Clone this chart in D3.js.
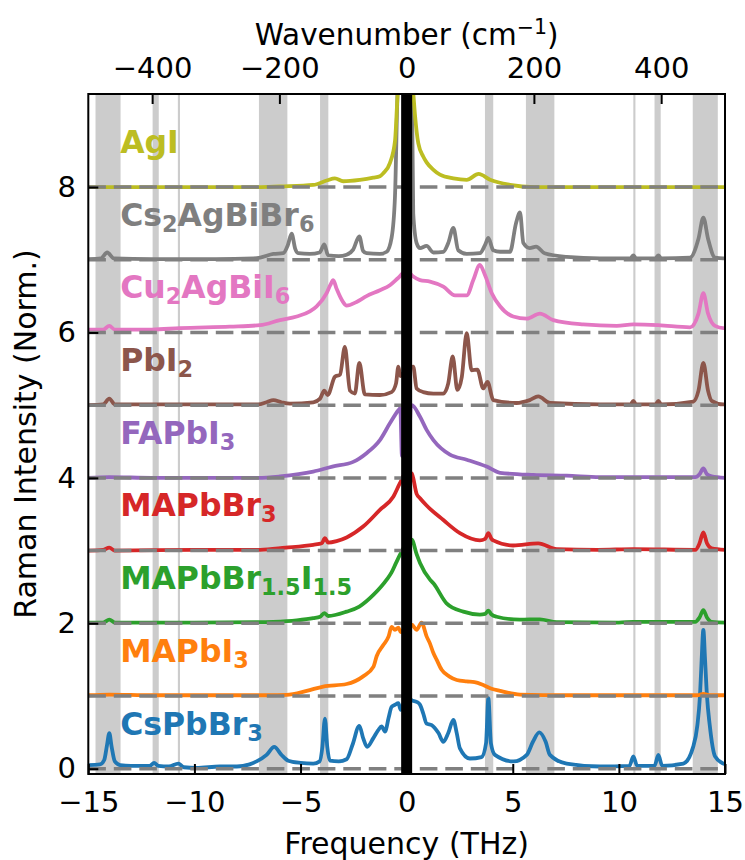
<!DOCTYPE html>
<html>
<head>
<meta charset="utf-8">
<script src="https://cdn.jsdelivr.net/npm/d3@7"></script>
<style>
  body { margin: 0; background: #fff; }
  text { font-family: "DejaVu Sans", sans-serif; }
</style>
</head>
<body>
<div id="raman_chart"></div>
<script>
// spectra: [frequency (THz), normalised intensity]
var csPbBr3 = [[-15,0.05],[-14.45,0.06],[-14.25,0.12],[-14.12,0.32],[-14.01,0.49],[-13.9,0.3],[-13.75,0.1],[-13.5,0.05],[-13.0,0.04],[-12.1,0.04],[-11.9,0.08],[-11.7,0.04],[-11.2,0.03],[-10.76,0.07],[-10.5,0.02],[-9.9,0.01],[-8.8,0.03],[-8.0,0.03],[-7.4,0.06],[-7.07,0.1],[-6.6,0.19],[-6.24,0.3],[-5.9,0.19],[-5.58,0.11],[-5.0,0.08],[-4.4,0.07],[-4.1,0.1],[-3.97,0.3],[-3.85,0.69],[-3.74,0.3],[-3.62,0.11],[-3.2,0.1],[-2.83,0.13],[-2.55,0.33],[-2.23,0.59],[-2.05,0.42],[-1.86,0.3],[-1.57,0.42],[-1.34,0.53],[-1.18,0.58],[-1.02,0.51],[-0.85,0.7],[-0.71,0.85],[-0.55,0.88],[-0.39,0.9],[-0.28,0.81],[0,1.0],[0.24,0.94],[0.47,0.92],[0.63,0.88],[0.78,0.76],[0.94,0.62],[1.18,0.6],[1.5,0.49],[1.73,0.37],[1.96,0.49],[2.2,0.67],[2.36,0.49],[2.51,0.28],[2.98,0.14],[3.53,0.16],[3.74,0.35],[3.85,0.97],[3.97,0.35],[4.16,0.19],[5.03,0.1],[5.66,0.19],[5.95,0.37],[6.25,0.5],[6.55,0.37],[6.75,0.19],[7.54,0.07],[9.1,0.03],[10.5,0.04],[10.68,0.17],[10.86,0.04],[11.68,0.04],[11.86,0.19],[12.04,0.04],[13.04,0.07],[13.5,0.3],[13.7,0.6],[13.82,1.0],[13.9,1.5],[13.98,1.91],[14.06,1.5],[14.15,1.0],[14.28,0.6],[14.53,0.17],[14.92,0.07],[15,0.06]];

var maPbI3 = [[-15,0.01],[-14.01,0.02],[-12,0.01],[-8,0.01],[-6.5,0.01],[-5.66,0.015],[-4.71,0.07],[-3.93,0.13],[-2.83,0.165],[-2.05,0.27],[-1.57,0.4],[-1.41,0.55],[-1.1,0.7],[-0.85,0.82],[-0.71,0.95],[-0.55,0.91],[-0.39,0.94],[-0.28,0.88],[0,0.95],[0.24,0.98],[0.47,0.91],[0.7,1.01],[0.94,0.82],[1.1,0.72],[1.26,0.59],[1.41,0.5],[1.65,0.36],[2.0,0.27],[2.36,0.22],[2.83,0.2],[3.2,0.19],[3.61,0.15],[4.0,0.1],[4.4,0.07],[5.34,0.02],[7.54,0.01],[13.7,0.01],[13.98,0.03],[14.3,0.01],[15,0.01]];

var maPbBrI = [[-15,0.01],[-14.3,0.01],[-14.01,0.05],[-13.75,0.01],[-10,0.01],[-7,0.015],[-6.3,0.02],[-5.18,0.04],[-4.4,0.07],[-4.08,0.09],[-3.88,0.14],[-3.7,0.1],[-2.83,0.16],[-2.23,0.23],[-1.57,0.39],[-0.94,0.6],[-0.71,0.7],[-0.5,0.83],[-0.3,0.95],[0,1.1],[0.24,1.15],[0.47,0.95],[0.63,0.83],[1.1,0.6],[1.26,0.55],[1.88,0.275],[2.67,0.16],[3.45,0.12],[3.7,0.13],[3.85,0.175],[4.0,0.12],[4.24,0.09],[5.34,0.05],[6.28,0.055],[7.07,0.015],[10,0.01],[10.68,0.02],[13.6,0.02],[13.8,0.08],[13.98,0.18],[14.15,0.08],[14.37,0.02],[15,0.01]];

var maPbBr3 = [[-15,0.0],[-14.3,0.01],[-14.01,0.04],[-13.75,0.0],[-10,0.01],[-6.9,0.01],[-5.7,0.04],[-4.4,0.08],[-4.0,0.1],[-3.85,0.17],[-3.7,0.11],[-3.3,0.13],[-2.83,0.18],[-2.05,0.33],[-1.26,0.56],[-0.63,0.74],[-0.31,0.93],[0,1.08],[0.24,1.06],[0.47,0.78],[0.63,0.72],[0.94,0.62],[1.73,0.42],[2.51,0.24],[3.45,0.14],[3.7,0.16],[3.85,0.24],[4.0,0.16],[4.08,0.14],[5.02,0.07],[6.2,0.1],[7.07,0.02],[9,0.01],[10.68,0.02],[13.6,0.01],[13.8,0.1],[13.98,0.25],[14.15,0.1],[14.37,0.03],[15,0.01]];

var faPbI3 = [[-15,0.0],[-14.01,0.01],[-12,0.0],[-7,0.0],[-5.97,0.02],[-4.4,0.086],[-3.5,0.155],[-2.52,0.22],[-1.89,0.34],[-1.26,0.52],[-0.79,0.75],[-0.39,0.93],[-0.3,0.96],[-0.22,0.3],[0.1,0.3],[0.2,1.0],[0.24,1.0],[0.63,0.84],[0.94,0.66],[1.26,0.52],[2.04,0.32],[2.83,0.25],[3.77,0.155],[4.4,0.07],[5.97,0.04],[7.54,0.03],[9.1,0.01],[13.6,0.01],[13.8,0.05],[13.98,0.13],[14.15,0.05],[14.37,0.02],[15,0.0]];

var pbI2 = [[-15,0.0],[-14.3,0.01],[-14.01,0.09],[-13.75,0.01],[-10,0.01],[-7,0.01],[-6.6,0.04],[-6.28,0.07],[-5.9,0.04],[-5.5,0.02],[-4.4,0.04],[-4.08,0.09],[-3.88,0.2],[-3.72,0.14],[-3.38,0.39],[-3.14,0.42],[-2.91,0.8],[-2.67,0.2],[-2.44,0.16],[-2.23,0.58],[-1.97,0.15],[-1.26,0.14],[-0.71,0.18],[-0.5,0.3],[-0.39,0.53],[-0.3,0.4],[0,0.5],[0.31,0.53],[0.47,0.23],[0.78,0.18],[1.26,0.16],[1.73,0.16],[1.96,0.3],[2.17,0.67],[2.39,0.21],[2.6,0.39],[2.83,0.99],[3.06,0.48],[3.33,0.49],[3.61,0.23],[3.81,0.32],[4.08,0.07],[5.18,0.03],[5.8,0.07],[6.2,0.12],[6.75,0.03],[9.1,0.01],[10.55,0.01],[10.68,0.06],[10.81,0.01],[11.73,0.01],[11.86,0.06],[11.99,0.01],[13.51,0.05],[13.75,0.2],[13.98,0.58],[14.2,0.2],[14.37,0.06],[14.92,0.01],[15,0.01]];

var cu2AgBiI6 = [[-15,0.04],[-14.3,0.04],[-14.01,0.09],[-13.75,0.04],[-12,0.04],[-10.68,0.06],[-8.33,0.08],[-6.91,0.1],[-5.97,0.17],[-5.18,0.22],[-4.56,0.29],[-4.24,0.36],[-3.77,0.54],[-3.6,0.65],[-3.46,0.72],[-3.3,0.6],[-3.0,0.42],[-2.83,0.37],[-2.36,0.42],[-1.89,0.5],[-1.26,0.58],[-0.79,0.65],[-0.4,0.75],[0,0.85],[0.31,0.77],[0.63,0.72],[1.1,0.7],[1.73,0.63],[2.28,0.51],[2.83,0.51],[3.14,0.72],[3.45,0.93],[3.69,0.79],[4.01,0.54],[4.4,0.36],[5.02,0.22],[5.66,0.19],[6.28,0.26],[6.91,0.17],[8.32,0.11],[9.9,0.09],[10.68,0.11],[11.86,0.1],[13.35,0.07],[13.75,0.26],[13.98,0.54],[14.2,0.26],[14.53,0.09],[14.92,0.06],[15,0.06]];

var cs2AgBiBr6 = [[-15,0.01],[-14.4,0.02],[-14.11,0.1],[-13.8,0.02],[-12,0.01],[-9,0.01],[-7.2,0.02],[-6.9,0.03],[-6.28,0.08],[-5.82,0.09],[-5.6,0.2],[-5.42,0.36],[-5.25,0.15],[-5.11,0.09],[-4.56,0.08],[-4.1,0.1],[-3.88,0.21],[-3.7,0.06],[-3.2,0.05],[-2.83,0.07],[-2.52,0.14],[-2.23,0.32],[-2.05,0.12],[-1.89,0.09],[-1.26,0.08],[-0.94,0.11],[-0.71,0.3],[-0.55,0.87],[-0.4,2.5],[0,3],[0.24,2.5],[0.31,0.64],[0.47,0.23],[0.63,0.16],[0.94,0.19],[1.26,0.1],[1.73,0.11],[1.96,0.23],[2.2,0.44],[2.43,0.13],[2.83,0.08],[3.45,0.09],[3.69,0.2],[3.85,0.3],[4.08,0.13],[4.4,0.11],[4.87,0.11],[5.15,0.5],[5.34,0.65],[5.5,0.23],[5.8,0.16],[6.1,0.18],[6.5,0.09],[7.54,0.04],[9.1,0.02],[10.55,0.02],[10.68,0.06],[10.81,0.02],[11.73,0.02],[11.86,0.06],[11.99,0.02],[13.35,0.03],[13.75,0.29],[13.98,0.58],[14.2,0.29],[14.53,0.03],[14.92,0.02],[15,0.02]];

var agI = [[-15,0.0],[-10,0.0],[-7,0.0],[-5.97,0.01],[-4.4,0.03],[-3.77,0.09],[-3.38,0.12],[-2.99,0.08],[-2.2,0.1],[-1.57,0.13],[-1.26,0.15],[-1.1,0.19],[-0.79,0.33],[-0.55,0.63],[-0.44,1.2],[-0.38,1.5],[0,3],[0.31,1.3],[0.39,1.0],[0.55,0.6],[0.78,0.42],[0.94,0.34],[1.25,0.24],[1.57,0.17],[2.2,0.12],[2.83,0.1],[3.39,0.18],[3.93,0.1],[4.87,0.03],[6,0.0],[15,0.0]];

var spectra = [csPbBr3, maPbI3, maPbBrI, maPbBr3, faPbI3, pbI2, cu2AgBiI6, cs2AgBiBr6, agI];
var names = ["CsPbBr_{3}", "MAPbI_{3}", "MAPbBr_{1.5}I_{1.5}", "MAPbBr_{3}", "FAPbI_{3}", "PbI_{2}", "Cu_{2}AgBiI_{6}", "Cs_{2}AgBiBr_{6}", "AgI"];
var offsets = [0, 1, 2, 3, 4, 5, 6, 7, 8];
var colors = ["#1f77b4", "#ff7f0e", "#2ca02c", "#d62728", "#9467bd", "#8c564b", "#e377c2", "#7f7f7f", "#bcbd22"];

// shaded frequency windows (THz)
var bands = [[-14.66,-13.48],[-11.97,-11.68],[-10.78,-10.68],[-6.96,-5.62],[-4.08,-3.69],[3.69,4.08],[5.62,6.96],[10.68,10.78],[11.68,11.97],[13.48,14.66]];

var xTicks = [-15, -10, -5, 0, 5, 10, 15];
var yTicks = [0, 2, 4, 6, 8];
var wnTicks = [-400, -200, 0, 200, 400];
var THZ_TO_CM = 33.356;

// set the dimensions and margins of the graph
var margin = {top: 94, right: 20, bottom: 86, left: 88.3},
    width = 745 - margin.left - margin.right,
    height = 860 - margin.top - margin.bottom;

var svg = d3.select("#raman_chart")
  .append("svg")
    .attr("width", 745)
    .attr("height", 860)
  .append("g")
    .attr("transform", "translate(" + margin.left + "," + margin.top + ")");

var x = d3.scaleLinear().domain([-15, 15]).range([0, width]);
var y = d3.scaleLinear().domain([-0.073, 9.28]).range([height, 0]);
var xWn = d3.scaleLinear().domain([-15 * THZ_TO_CM, 15 * THZ_TO_CM]).range([0, width]);

svg.append("clipPath").attr("id", "plotclip")
  .append("rect").attr("width", width).attr("height", height);

var plot = svg.append("g").attr("clip-path", "url(#plotclip)");

// gray bands
plot.selectAll("rect.band")
  .data(bands)
  .enter()
  .append("rect")
    .attr("class", "band")
    .attr("x", function(d) { return x(d[0]); })
    .attr("width", function(d) { return x(d[1]) - x(d[0]); })
    .attr("y", 0)
    .attr("height", height)
    .attr("fill", "#cccccc");

// spectra
var line = d3.line()
  .curve(d3.curveMonotoneX)
  .x(function(d) { return x(d[0]); })
  .y(function(d) { return y(d[1] + d[2]); });

spectra.forEach(function(s, i) {
  plot.append("path")
    .datum(s.map(function(p) { return [p[0], p[1], offsets[i]]; }))
    .attr("fill", "none")
    .attr("stroke", colors[i])
    .attr("stroke-width", 3.8)
    .attr("stroke-linejoin", "round")
    .attr("d", line);
});

// dashed baselines
plot.selectAll("line.base")
  .data(offsets)
  .enter()
  .append("line")
    .attr("x1", x(-15)).attr("x2", x(15))
    .attr("y1", function(d) { return y(d); })
    .attr("y2", function(d) { return y(d); })
    .attr("stroke", "#808080")
    .attr("stroke-width", 3.5)
    .attr("stroke-dasharray", "17.6,7.9");

// zero line
plot.append("line")
  .attr("x1", x(0)).attr("x2", x(0))
  .attr("y1", 0).attr("y2", height)
  .attr("stroke", "#000")
  .attr("stroke-width", 11);

// labels with subscripts
names.forEach(function(n, i) {
  var t = svg.append("text")
    .attr("x", x(-13.5))
    .attr("y", y(offsets[i] + 0.47))
    .attr("fill", colors[i])
    .attr("font-weight", "bold")
    .attr("font-size", 31.5);
  var parts = n.split(/(_\{[^}]*\})/).filter(function(p) { return p.length; });
  var shifted = false;
  parts.forEach(function(p) {
    if (p.indexOf("_{") === 0) {
      t.append("tspan").attr("font-size", 22.4).attr("dy", shifted ? 0 : 6).text(p.slice(2, -1));
      shifted = true;
    } else {
      t.append("tspan").attr("dy", shifted ? -6 : 0).text(p);
      shifted = false;
    }
  });
});

// axes
var xAxis = svg.append("g")
  .attr("transform", "translate(0," + height + ")")
  .call(d3.axisBottom(x).tickValues(xTicks).tickSizeInner(-10).tickSizeOuter(0).tickPadding(17.4));
var yAxis = svg.append("g")
  .call(d3.axisLeft(y).tickValues(yTicks).tickSizeInner(-10).tickSizeOuter(0).tickPadding(12.3));
var topAxis = svg.append("g")
  .call(d3.axisTop(xWn).tickValues(wnTicks).tickSizeInner(-10).tickSizeOuter(0).tickPadding(16.5));

[xAxis, yAxis, topAxis].forEach(function(a) {
  a.select(".domain").remove();
  a.selectAll("line").attr("stroke", "#000").attr("stroke-width", 2);
  a.selectAll("text").attr("fill", "#000").attr("font-size", 29)
    .attr("font-family", "DejaVu Sans, sans-serif");
});

// frame
svg.append("rect")
  .attr("width", width).attr("height", height)
  .attr("fill", "none").attr("stroke", "#000").attr("stroke-width", 2);

// axis titles
svg.append("text")
  .attr("text-anchor", "middle")
  .attr("x", x(0))
  .attr("y", 854 - margin.top)
  .attr("font-size", 30)
  .text("Frequency (THz)");

var wt = svg.append("text")
  .attr("text-anchor", "middle")
  .attr("x", x(0))
  .attr("y", 45 - margin.top)
  .attr("font-size", 29.5);
wt.append("tspan").text("Wavenumber (cm");
wt.append("tspan").attr("font-size", 20.5).attr("dy", -11).text("\u22121");
wt.append("tspan").attr("dy", 11).text(")");

svg.append("text")
  .attr("text-anchor", "middle")
  .attr("transform", "translate(" + (36 - margin.left) + "," + (height / 2) + ") rotate(-90)")
  .attr("font-size", 30)
  .text("Raman Intensity (Norm.)");
</script>
</body>
</html>
